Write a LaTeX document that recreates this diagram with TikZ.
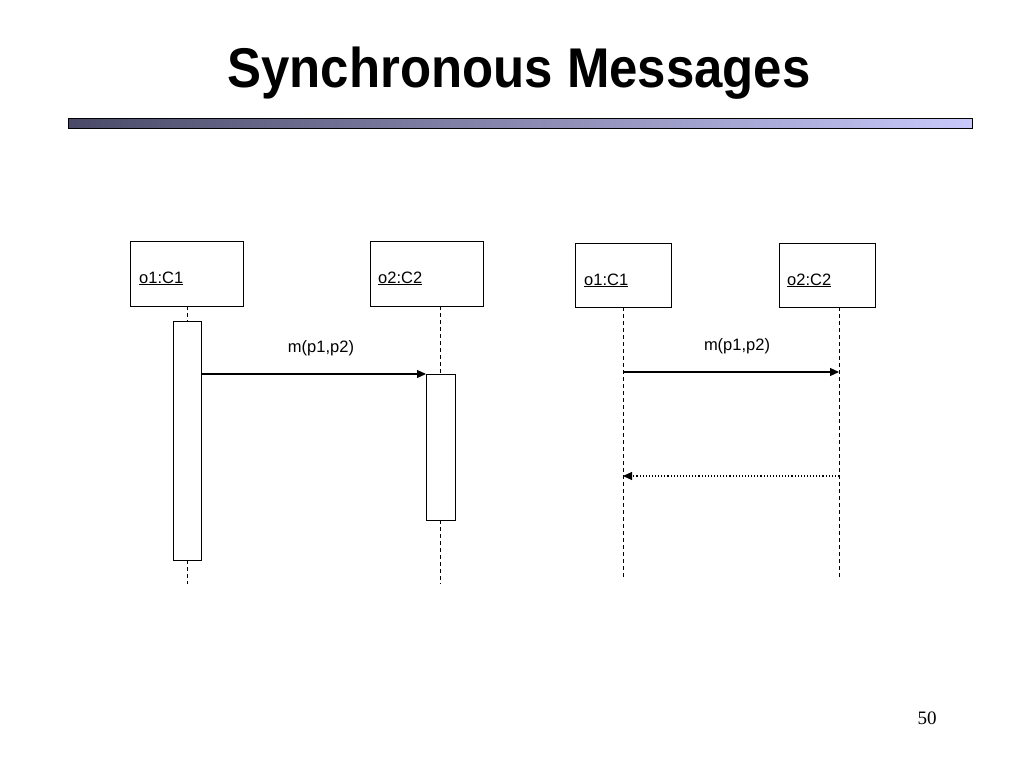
\documentclass[tikz,border=0pt]{standalone}
\usepackage{fontspec}
\setmainfont{Liberation Sans}
\newfontfamily\serifnum{Liberation Serif}
\usetikzlibrary{arrows.meta}
\definecolor{bardark}{HTML}{4A4A68}
\definecolor{barlight}{HTML}{C8C8FA}
\tikzset{
  objbox/.style={draw, line width=1pt, fill=white},
  lbl/.style={font=\fontsize{16.5}{19}\selectfont, inner sep=0pt, anchor=base west},
  mlbl/.style={font=\fontsize{16.5}{19}\selectfont, inner sep=0pt, anchor=base},
  life/.style={dashed, dash pattern=on 4pt off 3pt, line width=1pt},
  act/.style={draw, line width=1pt, fill=white},
  msg/.style={line width=1.1pt, -{Triangle[length=9pt,width=8pt]}},
  ret/.style={line width=1.1pt, dotted, -{Triangle[length=9pt,width=8pt]}},
}
\begin{document}
\begin{tikzpicture}[x=1pt,y=-1pt]
\useasboundingbox (0,0) rectangle (1024,768);
\node[font=\bfseries\fontsize{56}{64}\selectfont, anchor=base, xscale=0.91, inner sep=0pt] (title) at (519,87) {Synchronous Messages};
\shade[left color=bardark, right color=barlight] (68,118) rectangle (972,128);
\draw[line width=0.9pt] (68,118) rectangle (972,128);
% left diagram
\draw[objbox] (130,241) rectangle (243,306);
\coordinate (a1) at (187,306);
\node[lbl] (ta1) at (139,283) {\underline{o1:C1}};
\draw[objbox] (370,241) rectangle (483,306);
\coordinate (a2) at (440,306);
\node[lbl] (ta2) at (378,283) {\underline{o2:C2}};
\draw[life] (a1) -- (187,321);
\draw[life] (187,560) -- (187,584);
\draw[life] (a2) -- (440,374);
\draw[life] (440,520) -- (440,584);
\node[act, minimum width=28pt, minimum height=239pt, inner sep=0pt] (act1) at (187,440.5) {};
\node[act, minimum width=29pt, minimum height=146pt, inner sep=0pt] (act2) at (440.5,447) {};
\coordinate (m1s) at (201,374);
\coordinate (m1e) at (426,374);
\draw[msg] (m1s) -- (m1e);
\node[mlbl] (lm1) at (321,352) {m(p1,p2)};
% right diagram
\draw[objbox] (575,243) rectangle (671,307);
\node[lbl] (tb1) at (584,285) {\underline{o1:C1}};
\draw[objbox] (779,243) rectangle (875,307);
\node[lbl] (tb2) at (787,285) {\underline{o2:C2}};
\coordinate (b1t) at (623,307);
\coordinate (b1b) at (623,578);
\coordinate (b2t) at (839,307);
\coordinate (b2b) at (839,578);
\draw[life] (b1t) -- (b1b);
\draw[life] (b2t) -- (b2b);
\coordinate (m2s) at (623,372);
\coordinate (m2e) at (839,372);
\draw[msg] (m2s) -- (m2e);
\node[mlbl] (lm2) at (737,350) {m(p1,p2)};
\coordinate (r2s) at (839,476);
\coordinate (r2e) at (623,476);
\draw[ret] (r2s) -- (r2e);
\node[font=\serifnum\fontsize{19}{21}\selectfont, anchor=base, inner sep=0pt] (pg) at (927,724) {50};
\end{tikzpicture}
\end{document}
